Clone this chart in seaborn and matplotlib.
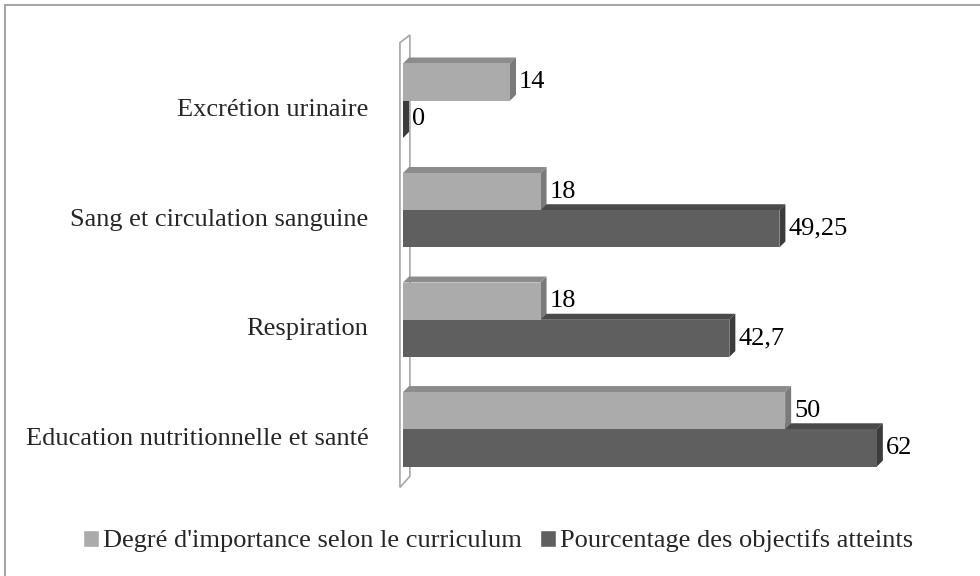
import matplotlib
matplotlib.use("Agg")
import matplotlib.pyplot as plt
from matplotlib.patches import Polygon, Rectangle
import matplotlib.transforms as mtransforms
import seaborn as sns
import pandas as pd

# data
categories = ["Excrétion urinaire", "Sang et circulation sanguine",
              "Respiration", "Education nutritionnelle et santé"]
series_names = ["Degré d'importance selon le curriculum",
                "Pourcentage des objectifs atteints"]
importance = [14, 18, 18, 50]
atteints = [0, 49.25, 42.7, 62]

df = pd.DataFrame({
    "Catégorie": categories * 2,
    "Valeur": importance + atteints,
    "Série": [series_names[0]] * 4 + [series_names[1]] * 4,
})

sns.set_style("white")
plt.rcParams["font.family"] = ["Liberation Serif", "DejaVu Serif"]
FS = 19

front = ["#ababab", "#5f5f5f"]
top = ["#8c8c8c", "#4a4a4a"]
side = ["#7a7a7a", "#3c3c3c"]

fig = plt.figure(figsize=(9.8, 5.76), dpi=100)
ax = fig.add_axes([403 / 980, 1 - 495 / 576, 535 / 980, (495 - 35) / 576])
sns.barplot(data=df, y="Catégorie", x="Valeur", hue="Série", orient="h",
            palette=front, width=0.68, ax=ax, saturation=1, legend=True)
ax.set_xlim(0, 70)
ax.set_ylim(3.6, -0.6)

# pixel depth -> data units
bbox = ax.get_window_extent()
dx = 6 * 70 / bbox.width
dy = 6 * 4.2 / bbox.height

# 3D wall on the left
wall = Polygon([(-0.4, 3.53), (-0.4, -0.53), (-0.4 + 1.3, -0.6),
                (-0.4 + 1.3, 3.43)], closed=True, facecolor="white",
               edgecolor="#a6a6a6", lw=1.2, zorder=0.5, clip_on=False)
ax.add_patch(wall)

bars = [p for p in ax.patches if isinstance(p, Rectangle) and p.get_width() >= 0][:8]
for i, b in enumerate(bars):
    s = i // 4
    x0 = b.get_x()
    w = b.get_width()
    y0 = b.get_y()
    h = b.get_height()
    yt = y0  # top edge (axis inverted)
    yb = y0 + h
    b.set_zorder(3)
    b.set_edgecolor("none")
    ax.add_patch(Polygon([(x0, yt), (x0 + dx, yt - dy), (x0 + w + dx, yt - dy), (x0 + w, yt)],
                         closed=True, facecolor=top[s], edgecolor="none", zorder=2))
    ax.add_patch(Polygon([(x0 + w, yt), (x0 + w + dx, yt - dy), (x0 + w + dx, yb - dy), (x0 + w, yb)],
                         closed=True, facecolor=side[s], edgecolor="none", zorder=2.5))
    label = f"{w:g}".replace(".", ",")
    ax.text(x0 + w + dx + 0.4, yt + h / 2, label, va="center", ha="left",
            fontsize=FS, color="black")

ax.set_xlabel("")
ax.set_ylabel("")
ax.set_xticks([])
ax.tick_params(axis="y", length=0, pad=25, labelsize=FS)
shift = mtransforms.ScaledTranslation(0, -5 / 72, fig.dpi_scale_trans)
for lab in ax.get_yticklabels():
    lab.set_transform(lab.get_transform() + shift)
for sp in ax.spines.values():
    sp.set_visible(False)

handles, labels = ax.get_legend_handles_labels()
ax.legend_.remove()
fig.legend(handles, labels, loc="center", bbox_to_anchor=(498 / 980, 1 - 541 / 576),
           ncol=2, frameon=False, fontsize=FS, handlelength=0.6, handleheight=0.6,
           handletextpad=0.15, columnspacing=0.7)

# outer chart border (only top/left visible in the crop)
fig.add_artist(Rectangle((5 / 980, -0.05), 1.2, 1 - 5 / 576 + 0.05,
                         transform=fig.transFigure, fill=False,
                         edgecolor="#a6a6a6", lw=1.5))

fig.savefig("out.png", dpi=100)
